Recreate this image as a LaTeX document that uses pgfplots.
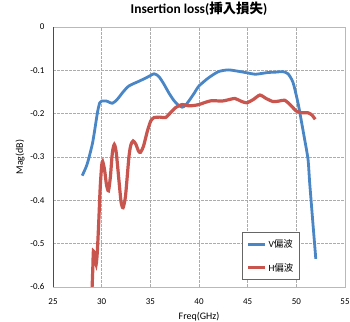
\documentclass[border=0pt]{standalone}
\usepackage{fontspec}
\setmainfont{Carlito}
\newfontfamily\cjk{Noto Sans CJK JP}
\usepackage{pgfplots}
\pgfplotsset{compat=1.18}
\definecolor{vblue}{HTML}{4A86C5}
\definecolor{hred}{HTML}{C9554F}
\begin{document}
\begin{tikzpicture}[x=1bp,y=1bp]
\useasboundingbox (0,0) rectangle (350,322);
\begin{axis}[
  at={(53bp,35bp)}, anchor=south west,
  scale only axis, width=292bp, height=260bp,
  xmin=25, xmax=55, ymin=-0.6, ymax=0,
  xtick={25,30,...,55}, ytick={-0.6,-0.5,...,0},
  /pgf/number format/assume math mode=true,
  yticklabel style={/pgf/number format/fixed,/pgf/number format/precision=1, font=\fontsize{9}{10}\selectfont, xshift=-5bp},
  xticklabel style={font=\fontsize{9}{10}\selectfont, yshift=-8bp},
  tick style={draw=none},
  grid=major,
  major grid style={gray!65, dash pattern=on 2.5bp off 1.5bp, line width=0.7bp},
  axis line style={gray!55, line width=0.7bp},
  title={\textbf{Insertion loss(}{\cjk\bfseries 挿入損失}\textbf{)}},
  title style={at={(axis description cs:0.5,1.046)}, anchor=center, font=\fontsize{13.5}{15}\selectfont},
  xlabel={Freq(GHz)},
  xlabel style={at={(axis description cs:0.5,-0.114)}, anchor=center, font=\fontsize{10}{11}\selectfont},
  ylabel={Mag(dB)},
  ylabel style={at={(axis description cs:-0.113,0.5)}, anchor=center, font=\fontsize{10}{11}\selectfont},
  legend style={at={(0.648,0.027)}, anchor=south west, draw=gray!80!black, line width=0.7bp,
    font=\fontsize{9.5}{10}\selectfont, row sep=10bp, inner xsep=4bp, inner ysep=5bp},
  legend cell align=left,
  legend image code/.code={\draw[#1, line width=3bp] (0bp,0bp) -- (17bp,0bp);},
]
\draw[black!70, line width=1bp] (rel axis cs:0,1) -- (rel axis cs:0,0) -- (rel axis cs:1,0);
\addplot[vblue, line width=2.8bp, smooth, tension=0.4] coordinates {
(28,-0.343) (28.5,-0.317) (29.07,-0.267) (29.57,-0.197) (29.8,-0.175) (30.0,-0.171)
(30.5,-0.171) (31.1,-0.176) (31.6,-0.167) (32.2,-0.150) (32.8,-0.136) (33.85,-0.125)
(34.6,-0.117) (35.4,-0.108) (35.9,-0.115) (36.4,-0.132) (36.9,-0.152) (37.4,-0.169)
(37.8,-0.179) (38.27,-0.185) (38.6,-0.181) (38.95,-0.171) (39.5,-0.153) (40.0,-0.136)
(41.0,-0.117) (42.0,-0.103) (43.0,-0.099) (44.0,-0.102) (45.0,-0.106) (45.75,-0.109)
(46.5,-0.107) (47.1,-0.105) (48.0,-0.104) (48.6,-0.103) (49.15,-0.108) (49.66,-0.128)
(50.17,-0.175) (50.5,-0.215) (50.85,-0.259) (51.2,-0.305) (51.37,-0.359) (51.7,-0.452)
(52.0,-0.535)};
\addlegendentry{V{\cjk 偏波}}
\addplot[hred, line width=3.2bp, smooth, tension=0.4] coordinates {
(29.02,-0.6) (29.1,-0.55) (29.15,-0.517) (29.3,-0.53) (29.43,-0.548) (29.55,-0.52)
(29.7,-0.45) (29.85,-0.37) (30.0,-0.32) (30.1,-0.31) (30.3,-0.33) (30.5,-0.365)
(30.7,-0.378) (30.9,-0.345) (31.1,-0.29) (31.3,-0.271) (31.5,-0.29) (31.8,-0.36)
(32.0,-0.405) (32.2,-0.417) (32.45,-0.39) (32.8,-0.30) (33.0,-0.272) (33.23,-0.263)
(33.5,-0.27) (33.8,-0.287) (34.0,-0.289) (34.3,-0.275) (34.7,-0.24) (35.04,-0.217)
(35.38,-0.209) (36.0,-0.208) (36.57,-0.209) (37.1,-0.197) (37.6,-0.186) (38.27,-0.179)
(38.95,-0.182) (39.5,-0.181) (40.0,-0.179) (40.5,-0.175) (41.3,-0.170) (42.35,-0.171)
(43.0,-0.168) (43.7,-0.165) (44.3,-0.171) (44.9,-0.175) (45.6,-0.167) (46.26,-0.157)
(46.9,-0.165) (47.6,-0.172) (48.2,-0.171) (48.8,-0.169) (49.4,-0.180) (50.0,-0.194)
(50.6,-0.198) (51.2,-0.198) (51.6,-0.203) (51.94,-0.213)};
\addlegendentry{H{\cjk 偏波}}
\end{axis}
\end{tikzpicture}
\end{document}
